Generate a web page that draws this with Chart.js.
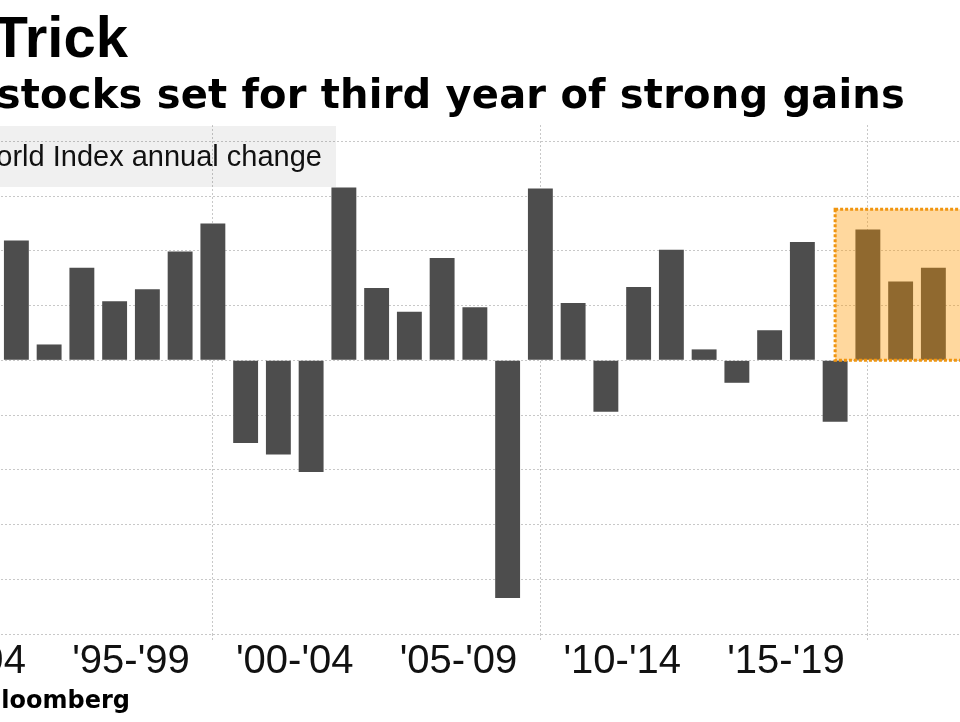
<!DOCTYPE html>
<html><head><meta charset="utf-8">
<script src="https://cdn.jsdelivr.net/npm/chart.js@4"></script>
<style>
html,body{margin:0;padding:0;background:#fff;}
body{width:960px;height:722px;overflow:hidden;position:relative;}
#wrap{position:absolute;left:-131px;top:0;width:1179px;height:722px;}
canvas{display:block;}
.t{position:absolute;white-space:nowrap;color:#000;}
#title{right:832px;top:8px;font:bold 58px/1 "Liberation Sans",Arial,sans-serif;}
#subtitle{right:55px;top:74px;font:bold 40px/1 "DejaVu Sans",sans-serif;letter-spacing:0.2px;}
#legend{right:624px;top:126px;height:61px;padding:0 14px 0 20px;background:rgba(0,0,0,0.06);font:29px/61px "Liberation Sans",Arial,sans-serif;color:#111;}
#source{right:830px;top:688px;font:bold 24px/1 "DejaVu Sans",sans-serif;}
</style></head>
<body>
<div id="wrap"><canvas id="c" width="1179" height="722"></canvas></div>
<div class="t" id="title">Hat Trick</div>
<div class="t" id="subtitle">Global stocks set for third year of strong gains</div>
<div class="t" id="legend">MSCI All Country World Index annual change</div>
<div class="t" id="source">Source: Bloomberg</div>
<script>
// ---- data ----
const years = [1993,1994,1995,1996,1997,1998,1999,2000,2001,2002,2003,2004,2005,2006,2007,2008,2009,2010,2011,2012,2013,2014,2015,2016,2017,2018,2019,2020,2021];
const changes = [21.9,2.9,16.9,10.8,13.0,19.9,25.0,-15.1,-17.2,-20.4,31.6,13.2,8.9,18.7,9.7,-43.4,31.4,10.5,-9.4,13.4,20.2,2.0,-4.1,5.5,21.6,-11.2,23.9,14.4,16.9];
const periodLabels = ["'90-'94","'95-'99","'00-'04","'05-'09","'10-'14","'15-'19"];
const periodCenters = [1991.5,1996.5,2001.5,2006.5,2011.5,2016.5];
const gridYears = [1989,1999,2009,2019];
const yTicks = [-50,-40,-30,-20,-10,0,10,20,30,40];
const highlightFrom = 2018;
const highlightTop = 27.6;

const GRID = '#c8c8c8';
const isGridTick = ctx => ctx.tick && gridYears.includes(ctx.tick.value);

const highlightPlugin = {
  id: 'highlight',
  afterDatasetsDraw(chart) {
    const {ctx, scales: {x, y}} = chart;
    const l = x.getPixelForValue(highlightFrom);
    const r = chart.width + 10;
    const t = y.getPixelForValue(highlightTop);
    const b = y.getPixelForValue(0);
    ctx.save();
    ctx.fillStyle = 'rgba(255,153,0,0.38)';
    ctx.fillRect(l, t, r - l, b - t);
    ctx.strokeStyle = '#f0950f';
    ctx.lineWidth = 3;
    ctx.setLineDash([3, 2]);
    ctx.strokeRect(l, t, r - l, b - t);
    ctx.restore();
  }
};

new Chart(document.getElementById('c'), {
  type: 'bar',
  data: {
    datasets: [{
      data: years.map((yr, i) => ({x: yr, y: changes[i]})),
      backgroundColor: '#4d4d4d',
      borderWidth: 0,
      barPercentage: 0.76,
      categoryPercentage: 1
    }]
  },
  options: {
    responsive: false,
    animation: false,
    devicePixelRatio: 1,
    layout: {padding: {top: 125, left: 0, right: 0, bottom: 0}},
    plugins: {legend: {display: false}, title: {display: false}, tooltip: {enabled: false}},
    scales: {
      x: {
        type: 'linear',
        min: 1988.5,
        max: 2024.5,
        offset: false,
        afterBuildTicks: s => { s.ticks = [...gridYears, ...periodCenters].sort((a, b) => a - b).map(v => ({value: v})); },
        afterFit: s => { s.height = 88; },
        grid: {
          offset: false,
          color: ctx => isGridTick(ctx) ? GRID : 'rgba(0,0,0,0)',
          tickColor: ctx => isGridTick(ctx) ? GRID : 'rgba(0,0,0,0)',
          tickLength: 6,
          tickBorderDash: [2, 2],
          lineWidth: 1
        },
        border: {display: false, dash: [2, 2]},
        ticks: {
          autoSkip: false,
          maxRotation: 0,
          minRotation: 0,
          padding: 2,
          color: '#111',
          font: {family: '"Liberation Sans", Arial, sans-serif', size: 40, lineHeight: 1},
          callback: v => { const i = periodCenters.indexOf(v); return i >= 0 ? periodLabels[i] : ''; }
        }
      },
      y: {
        min: -50,
        max: 43,
        afterBuildTicks: s => { s.ticks = yTicks.map(v => ({value: v})); },
        afterFit: s => { s.width = 0; },
        grid: {color: GRID, drawTicks: false, lineWidth: 1},
        border: {display: false, dash: [2, 2]},
        ticks: {display: false}
      }
    }
  },
  plugins: [highlightPlugin]
});
</script>
</body></html>
